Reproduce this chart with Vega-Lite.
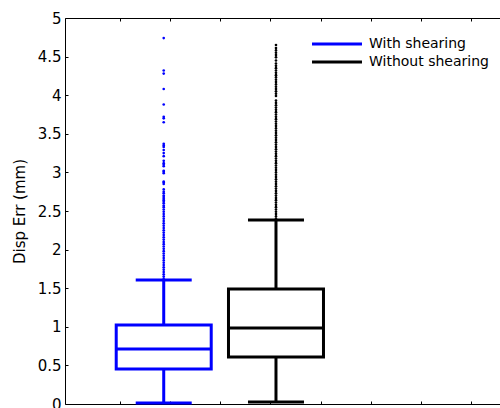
{
  "$schema": "https://vega.github.io/schema/vega-lite/v6.json",
  "width": 435,
  "height": 386,
  "autosize": {"type": "none"},
  "padding": {"left": 65, "top": 18, "right": 0, "bottom": 4},
  "background": "white",
  "datasets": {
    "boxes": [
      {"group": "With shearing", "pos": 1.87, "lo": 0.013, "q1": 0.453, "med": 0.712, "q3": 1.023, "hi": 1.606},
      {"group": "Without shearing", "pos": 4.11, "lo": 0.026, "q1": 0.609, "med": 0.984, "q3": 1.49, "hi": 2.383}
    ],
    "outliers": [
      {"group": "With shearing", "pos": 1.87, "value": 1.62},
      {"group": "With shearing", "pos": 1.87, "value": 1.65},
      {"group": "With shearing", "pos": 1.87, "value": 1.68},
      {"group": "With shearing", "pos": 1.87, "value": 1.71},
      {"group": "With shearing", "pos": 1.87, "value": 1.74},
      {"group": "With shearing", "pos": 1.87, "value": 1.77},
      {"group": "With shearing", "pos": 1.87, "value": 1.80},
      {"group": "With shearing", "pos": 1.87, "value": 1.83},
      {"group": "With shearing", "pos": 1.87, "value": 1.86},
      {"group": "With shearing", "pos": 1.87, "value": 1.89},
      {"group": "With shearing", "pos": 1.87, "value": 1.92},
      {"group": "With shearing", "pos": 1.87, "value": 1.95},
      {"group": "With shearing", "pos": 1.87, "value": 1.98},
      {"group": "With shearing", "pos": 1.87, "value": 2.01},
      {"group": "With shearing", "pos": 1.87, "value": 2.04},
      {"group": "With shearing", "pos": 1.87, "value": 2.07},
      {"group": "With shearing", "pos": 1.87, "value": 2.10},
      {"group": "With shearing", "pos": 1.87, "value": 2.13},
      {"group": "With shearing", "pos": 1.87, "value": 2.16},
      {"group": "With shearing", "pos": 1.87, "value": 2.19},
      {"group": "With shearing", "pos": 1.87, "value": 2.22},
      {"group": "With shearing", "pos": 1.87, "value": 2.25},
      {"group": "With shearing", "pos": 1.87, "value": 2.28},
      {"group": "With shearing", "pos": 1.87, "value": 2.31},
      {"group": "With shearing", "pos": 1.87, "value": 2.34},
      {"group": "With shearing", "pos": 1.87, "value": 2.37},
      {"group": "With shearing", "pos": 1.87, "value": 2.40},
      {"group": "With shearing", "pos": 1.87, "value": 2.43},
      {"group": "With shearing", "pos": 1.87, "value": 2.46},
      {"group": "With shearing", "pos": 1.87, "value": 2.49},
      {"group": "With shearing", "pos": 1.87, "value": 2.52},
      {"group": "With shearing", "pos": 1.87, "value": 2.55},
      {"group": "With shearing", "pos": 1.87, "value": 2.57},
      {"group": "With shearing", "pos": 1.87, "value": 2.60},
      {"group": "With shearing", "pos": 1.87, "value": 2.62},
      {"group": "With shearing", "pos": 1.87, "value": 2.64},
      {"group": "With shearing", "pos": 1.87, "value": 2.66},
      {"group": "With shearing", "pos": 1.87, "value": 2.68},
      {"group": "With shearing", "pos": 1.87, "value": 2.70},
      {"group": "With shearing", "pos": 1.87, "value": 2.73},
      {"group": "With shearing", "pos": 1.87, "value": 2.75},
      {"group": "With shearing", "pos": 1.87, "value": 2.78},
      {"group": "With shearing", "pos": 1.87, "value": 2.85},
      {"group": "With shearing", "pos": 1.87, "value": 2.87},
      {"group": "With shearing", "pos": 1.87, "value": 2.88},
      {"group": "With shearing", "pos": 1.87, "value": 2.99},
      {"group": "With shearing", "pos": 1.87, "value": 3.01},
      {"group": "With shearing", "pos": 1.87, "value": 3.02},
      {"group": "With shearing", "pos": 1.87, "value": 3.08},
      {"group": "With shearing", "pos": 1.87, "value": 3.10},
      {"group": "With shearing", "pos": 1.87, "value": 3.12},
      {"group": "With shearing", "pos": 1.87, "value": 3.15},
      {"group": "With shearing", "pos": 1.87, "value": 3.21},
      {"group": "With shearing", "pos": 1.87, "value": 3.25},
      {"group": "With shearing", "pos": 1.87, "value": 3.29},
      {"group": "With shearing", "pos": 1.87, "value": 3.33},
      {"group": "With shearing", "pos": 1.87, "value": 3.35},
      {"group": "With shearing", "pos": 1.87, "value": 3.37},
      {"group": "With shearing", "pos": 1.87, "value": 3.65},
      {"group": "With shearing", "pos": 1.87, "value": 3.70},
      {"group": "With shearing", "pos": 1.87, "value": 3.72},
      {"group": "With shearing", "pos": 1.87, "value": 3.88},
      {"group": "With shearing", "pos": 1.87, "value": 4.08},
      {"group": "With shearing", "pos": 1.87, "value": 4.28},
      {"group": "With shearing", "pos": 1.87, "value": 4.32},
      {"group": "With shearing", "pos": 1.87, "value": 4.74},
      {"group": "Without shearing", "pos": 4.11, "value": 2.40},
      {"group": "Without shearing", "pos": 4.11, "value": 2.43},
      {"group": "Without shearing", "pos": 4.11, "value": 2.46},
      {"group": "Without shearing", "pos": 4.11, "value": 2.49},
      {"group": "Without shearing", "pos": 4.11, "value": 2.52},
      {"group": "Without shearing", "pos": 4.11, "value": 2.55},
      {"group": "Without shearing", "pos": 4.11, "value": 2.58},
      {"group": "Without shearing", "pos": 4.11, "value": 2.61},
      {"group": "Without shearing", "pos": 4.11, "value": 2.64},
      {"group": "Without shearing", "pos": 4.11, "value": 2.67},
      {"group": "Without shearing", "pos": 4.11, "value": 2.70},
      {"group": "Without shearing", "pos": 4.11, "value": 2.73},
      {"group": "Without shearing", "pos": 4.11, "value": 2.76},
      {"group": "Without shearing", "pos": 4.11, "value": 2.79},
      {"group": "Without shearing", "pos": 4.11, "value": 2.82},
      {"group": "Without shearing", "pos": 4.11, "value": 2.85},
      {"group": "Without shearing", "pos": 4.11, "value": 2.88},
      {"group": "Without shearing", "pos": 4.11, "value": 2.91},
      {"group": "Without shearing", "pos": 4.11, "value": 2.94},
      {"group": "Without shearing", "pos": 4.11, "value": 2.97},
      {"group": "Without shearing", "pos": 4.11, "value": 3.00},
      {"group": "Without shearing", "pos": 4.11, "value": 3.03},
      {"group": "Without shearing", "pos": 4.11, "value": 3.06},
      {"group": "Without shearing", "pos": 4.11, "value": 3.09},
      {"group": "Without shearing", "pos": 4.11, "value": 3.12},
      {"group": "Without shearing", "pos": 4.11, "value": 3.15},
      {"group": "Without shearing", "pos": 4.11, "value": 3.18},
      {"group": "Without shearing", "pos": 4.11, "value": 3.21},
      {"group": "Without shearing", "pos": 4.11, "value": 3.24},
      {"group": "Without shearing", "pos": 4.11, "value": 3.27},
      {"group": "Without shearing", "pos": 4.11, "value": 3.30},
      {"group": "Without shearing", "pos": 4.11, "value": 3.33},
      {"group": "Without shearing", "pos": 4.11, "value": 3.36},
      {"group": "Without shearing", "pos": 4.11, "value": 3.39},
      {"group": "Without shearing", "pos": 4.11, "value": 3.42},
      {"group": "Without shearing", "pos": 4.11, "value": 3.45},
      {"group": "Without shearing", "pos": 4.11, "value": 3.48},
      {"group": "Without shearing", "pos": 4.11, "value": 3.51},
      {"group": "Without shearing", "pos": 4.11, "value": 3.54},
      {"group": "Without shearing", "pos": 4.11, "value": 3.57},
      {"group": "Without shearing", "pos": 4.11, "value": 3.60},
      {"group": "Without shearing", "pos": 4.11, "value": 3.63},
      {"group": "Without shearing", "pos": 4.11, "value": 3.66},
      {"group": "Without shearing", "pos": 4.11, "value": 3.69},
      {"group": "Without shearing", "pos": 4.11, "value": 3.72},
      {"group": "Without shearing", "pos": 4.11, "value": 3.75},
      {"group": "Without shearing", "pos": 4.11, "value": 3.78},
      {"group": "Without shearing", "pos": 4.11, "value": 3.81},
      {"group": "Without shearing", "pos": 4.11, "value": 3.84},
      {"group": "Without shearing", "pos": 4.11, "value": 3.87},
      {"group": "Without shearing", "pos": 4.11, "value": 3.90},
      {"group": "Without shearing", "pos": 4.11, "value": 3.93},
      {"group": "Without shearing", "pos": 4.11, "value": 3.99},
      {"group": "Without shearing", "pos": 4.11, "value": 4.02},
      {"group": "Without shearing", "pos": 4.11, "value": 4.05},
      {"group": "Without shearing", "pos": 4.11, "value": 4.08},
      {"group": "Without shearing", "pos": 4.11, "value": 4.11},
      {"group": "Without shearing", "pos": 4.11, "value": 4.14},
      {"group": "Without shearing", "pos": 4.11, "value": 4.17},
      {"group": "Without shearing", "pos": 4.11, "value": 4.20},
      {"group": "Without shearing", "pos": 4.11, "value": 4.23},
      {"group": "Without shearing", "pos": 4.11, "value": 4.26},
      {"group": "Without shearing", "pos": 4.11, "value": 4.29},
      {"group": "Without shearing", "pos": 4.11, "value": 4.32},
      {"group": "Without shearing", "pos": 4.11, "value": 4.35},
      {"group": "Without shearing", "pos": 4.11, "value": 4.38},
      {"group": "Without shearing", "pos": 4.11, "value": 4.41},
      {"group": "Without shearing", "pos": 4.11, "value": 4.45},
      {"group": "Without shearing", "pos": 4.11, "value": 4.49},
      {"group": "Without shearing", "pos": 4.11, "value": 4.52},
      {"group": "Without shearing", "pos": 4.11, "value": 4.55},
      {"group": "Without shearing", "pos": 4.11, "value": 4.58},
      {"group": "Without shearing", "pos": 4.11, "value": 4.61},
      {"group": "Without shearing", "pos": 4.11, "value": 4.65}
    ]
  },
  "resolve": {"axis": {"x": "independent"}},
  "layer": [
    {
      "data": {"name": "boxes"},
      "mark": {"type": "rule", "strokeWidth": 3},
      "encoding": {
        "x": {"field": "pos", "type": "quantitative", "scale": {"domain": [0, 8.48], "nice": false, "zero": false},
              "axis": {"orient": "bottom", "values": [1, 2, 3, 4, 5, 6, 7, 8], "labels": false, "title": null, "tickSize": -3, "domain": true}},
        "y": {"field": "lo", "type": "quantitative", "scale": {"domain": [0, 5], "nice": false},
              "axis": {"title": "Disp Err (mm)"}},
        "y2": {"field": "q1"},
        "color": {"field": "group", "type": "nominal",
                  "scale": {"domain": ["With shearing", "Without shearing"], "range": ["#0000ff", "#000000"]},
                  "legend": {"orient": "none", "legendX": 261, "legendY": 15, "title": null, "symbolType": "M-2.63,0H2.63", "symbolSize": 361, "symbolStrokeWidth": 3, "rowPadding": 0, "labelOffset": 21, "padding": 0}}
      }
    },
    {
      "data": {"name": "boxes"},
      "mark": {"type": "rule", "strokeWidth": 3},
      "encoding": {
        "x": {"field": "pos", "type": "quantitative",
              "axis": {"orient": "top", "values": [1, 2, 3, 4, 5, 6, 7, 8], "labels": false, "title": null, "tickSize": -3, "domain": true}},
        "y": {"field": "q3", "type": "quantitative"},
        "y2": {"field": "hi"},
        "color": {"field": "group", "type": "nominal"}
      }
    },
    {
      "data": {"name": "boxes"},
      "mark": {"type": "bar", "filled": false, "width": 95, "strokeWidth": 3, "opacity": 1},
      "encoding": {
        "x": {"field": "pos", "type": "quantitative", "axis": null},
        "y": {"field": "q1", "type": "quantitative"},
        "y2": {"field": "q3"},
        "color": {"field": "group", "type": "nominal"}
      }
    },
    {
      "data": {"name": "boxes"},
      "mark": {"type": "tick", "orient": "horizontal", "size": 95, "thickness": 3, "opacity": 1},
      "encoding": {
        "x": {"field": "pos", "type": "quantitative", "axis": null},
        "y": {"field": "med", "type": "quantitative"},
        "color": {"field": "group", "type": "nominal"}
      }
    },
    {
      "data": {"name": "boxes"},
      "mark": {"type": "tick", "orient": "horizontal", "size": 56, "thickness": 3, "opacity": 1},
      "encoding": {
        "x": {"field": "pos", "type": "quantitative", "axis": null},
        "y": {"field": "lo", "type": "quantitative"},
        "color": {"field": "group", "type": "nominal"}
      }
    },
    {
      "data": {"name": "boxes"},
      "mark": {"type": "tick", "orient": "horizontal", "size": 56, "thickness": 3, "opacity": 1},
      "encoding": {
        "x": {"field": "pos", "type": "quantitative", "axis": null},
        "y": {"field": "hi", "type": "quantitative"},
        "color": {"field": "group", "type": "nominal"}
      }
    },
    {
      "data": {"name": "outliers"},
      "mark": {"type": "circle", "size": 7, "opacity": 1},
      "encoding": {
        "x": {"field": "pos", "type": "quantitative", "axis": null},
        "y": {"field": "value", "type": "quantitative"},
        "color": {"field": "group", "type": "nominal"}
      }
    }
  ],
  "config": {
    "view": {"stroke": null},
    "font": "DejaVu Sans",
    "axis": {"labelFont": "DejaVu Sans", "labelFontSize": 15, "labelColor": "black", "domainColor": "black", "tickColor": "black", "grid": false,
             "titleFont": "DejaVu Sans", "titleFontSize": 15, "titleFontWeight": "normal", "titleColor": "black", "domainWidth": 1, "tickWidth": 1},
    "axisY": {"tickCount": 10, "format": "~g", "labelOverlap": false, "labelSeparation": 0, "tickSize": -3, "labelPadding": 7, "titlePadding": 10},
    "legend": {"labelFont": "DejaVu Sans", "labelFontSize": 14, "labelColor": "black", "symbolType": "M-2.63,0H2.63"}
  }
}
